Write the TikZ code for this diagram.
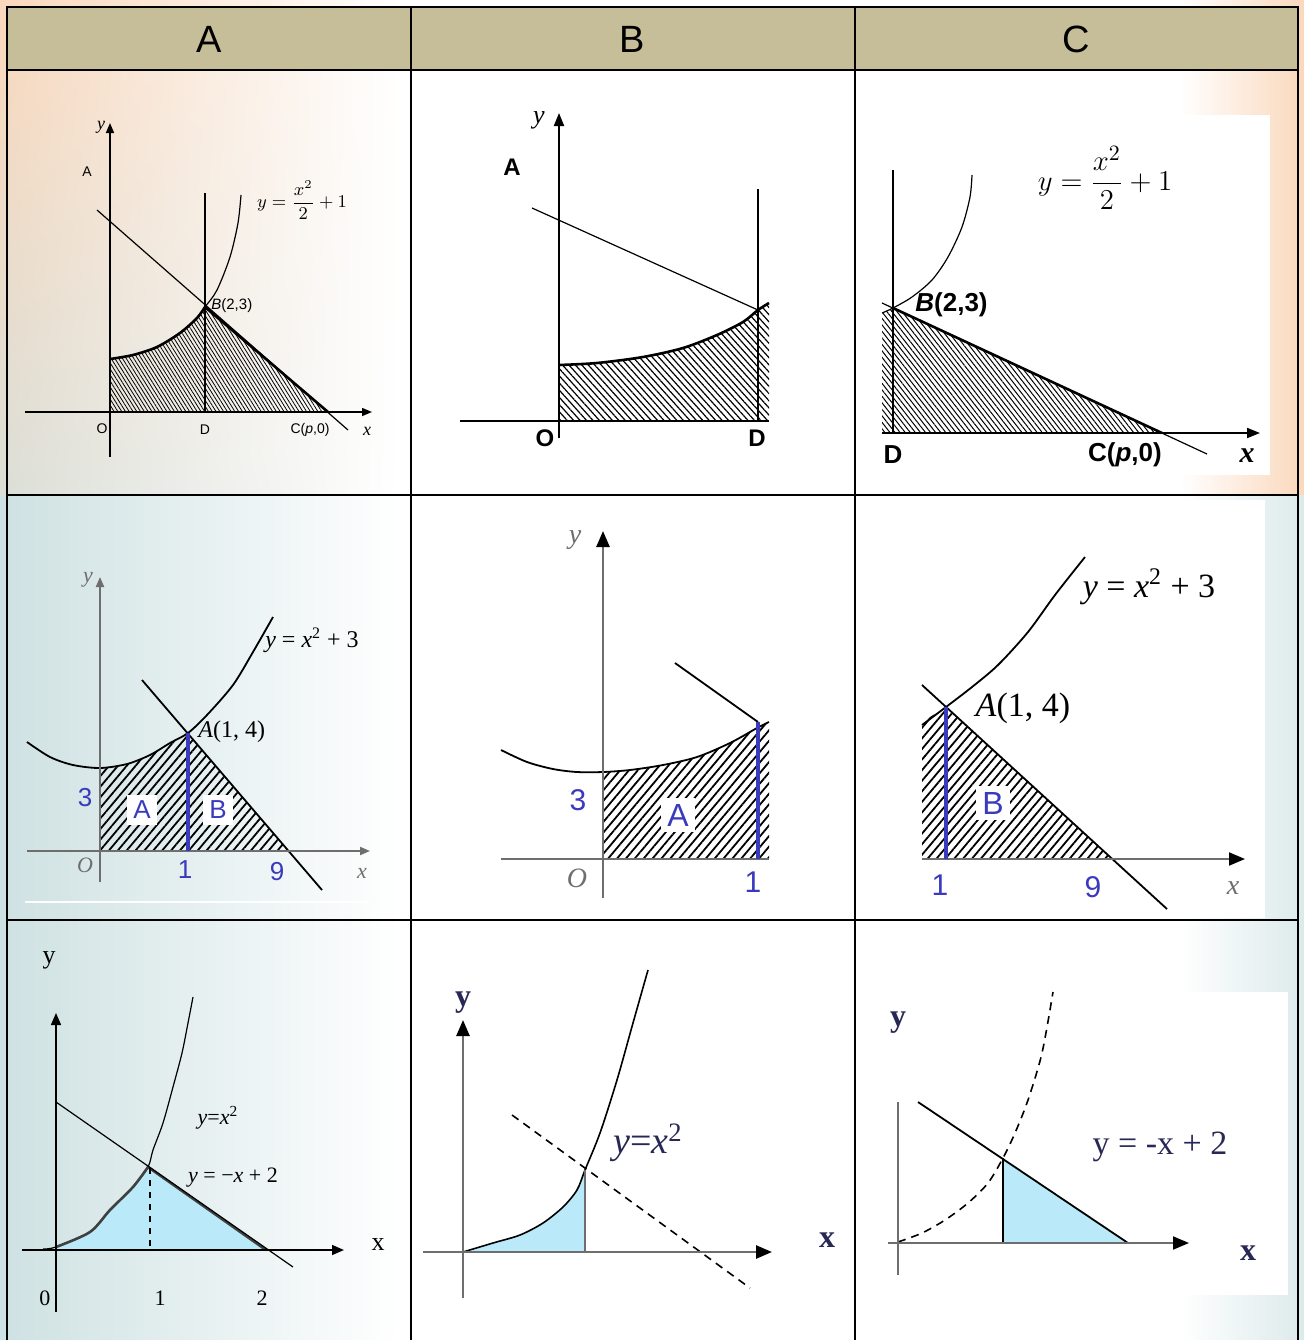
\documentclass[tikz,border=0pt]{standalone}
\usepackage{fontspec}
\setmainfont{Liberation Serif}
\newfontfamily\arialfont{Liberation Sans}
\usetikzlibrary{arrows.meta,patterns.meta,shadings}

\definecolor{headtan}{RGB}{197,190,152}
\definecolor{peach}{RGB}{250,216,188}
\definecolor{mist}{RGB}{206,225,226}
\definecolor{inkblue}{RGB}{58,58,190}
\definecolor{skyfill}{RGB}{186,234,250}
\definecolor{axisgray}{RGB}{110,110,110}
\definecolor{navy}{RGB}{40,40,85}

\newcommand{\fsz}[1]{\fontsize{#1}{#1}\selectfont}
\def\gridwidth{1.2pt}

\tikzstyle{head} = [font=\arialfont\fsz{19}]
\tikzstyle{grid} = [line width=\gridwidth, black]
\tikzstyle{axis} = [line width=0.75pt, -{Triangle[length=5pt,width=4pt]}]
\tikzstyle{axisB} = [line width=1pt, -{Triangle[length=6.5pt,width=5pt]}]
\tikzstyle{axisG} = [line width=1.3pt, axisgray, -{Triangle[length=8pt,width=6.5pt,color=black]}]
\tikzstyle{graph} = [line width=0.6pt]
\tikzstyle{rim} = [line width=1.3pt]
\tikzstyle{tag} = [inner sep=1pt]
\tikzstyle{bluetag} = [inner sep=1pt, text=inkblue, font=\arialfont\fsz{13}]
\tikzstyle{boxtag} = [bluetag, fill=white, inner sep=3pt]
\tikzstyle{cut} = [line width=1.8pt, inkblue]
\tikzstyle{hatchA} = [pattern={Lines[angle=-58,distance=1.6pt,line width=0.4pt]}]
\tikzstyle{hatchB} = [pattern={Lines[angle=-48,distance=2.4pt,line width=0.6pt]}]
\tikzstyle{hatchC} = [pattern={Lines[angle=-52,distance=2pt,line width=0.5pt]}]
\tikzstyle{hatchD} = [pattern={Lines[angle=50,distance=3.4pt,line width=0.9pt]}]
\tikzstyle{sky} = [fill=skyfill]

\begin{document}
\begin{tikzpicture}[x=0.5pt, y=-0.5pt]
    \useasboundingbox (0,0) rectangle (1304,1340);
    %%%%%%%%%%%%%%%%%%%%%%%%%%%%%%%%%%%%%%%%
    % Background
    %%%%%%%%%%%%%%%%%%%%%%%%%%%%%%%%%%%%%%%%
    \fill[white] (0,0) rectangle (1304,1340);
    \shade[upper left=peach, lower left=mist!70!peach, upper right=white, lower right=white] (0,0) rectangle (400,495);
    \shade[left color=mist, right color=white] (0,495) rectangle (400,1340);
    \shade[left color=white, right color=peach] (1180,0) rectangle (1304,495);
    \shade[left color=white, right color=mist!70] (1180,495) rectangle (1304,1340);
    \fill[white] (880,115) rectangle (1270,475);
    \fill[white] (922,500) rectangle (1265,918);
    \fill[white] (870,992) rectangle (1288,1295);
    \fill[headtan] (7,7) rectangle (1298,70);
    \draw[white, line width=1pt] (25,902) -- (370,902);
    \node (colA) [head] at (209,39) {A};
    \node (colB) [head] at (632,39) {B};
    \node (colC) [head] at (1076,39) {C};
    %%%%%%%%%%%%%%%%%%%%%%%%%%%%%%%%%%%%%%%%
    % Row 1
    %%%%%%%%%%%%%%%%%%%%%%%%%%%%%%%%%%%%%%%%
    \fill[hatchA] (110,412) -- plot[smooth] coordinates {(110,359) (133,355) (157,347) (180,333) (197,318) (205,307)} -- (328,412) -- cycle;
    \draw[graph] plot[smooth] coordinates {(110,359) (133,355) (157,347) (180,333) (197,318) (205,307) (217,290) (230,257) (238,223) (241,195)};
    \draw[rim] plot[smooth] coordinates {(110,359) (133,355) (157,347) (180,333) (197,318) (205,307)} -- (328,412);
    \draw[graph] (97,210) -- (348,430);
    \draw[graph] (205,193) -- (205,412);
    \draw[axis] (110,457) -- (110,123);
    \draw[axis] (25,412) -- (372,412);
    \node (a1y) [tag, font=\fsz{9}\itshape] at (101,127) {y};
    \node (a1A) [tag, font=\arialfont\fsz{7}] at (87,172) {A};
    \node (a1f) [tag, font=\fsz{9}] at (302,200) {$\displaystyle y=\frac{x^2}{2}+1$};
    \node (a1B) [tag, anchor=west, font=\arialfont\fsz{7.5}] at (209,306) {\textit{B}(2,3)};
    \node (a1O) [tag, font=\arialfont\fsz{7}] at (102,429) {O};
    \node (a1D) [tag, font=\arialfont\fsz{7}] at (205,430) {D};
    \node (a1C) [tag, font=\arialfont\fsz{7}] at (310,430) {C(\textit{p},0)};
    \node (a1x) [tag, font=\fsz{9}\itshape] at (367,431) {x};

    \fill[hatchB] (559,421) -- plot[smooth] coordinates {(559,365) (597,363) (643,357) (683,348) (717,335) (743,322) (758,310) (769,303)} -- (769,421) -- cycle;
    \draw[rim] plot[smooth] coordinates {(559,365) (597,363) (643,357) (683,348) (717,335) (743,322) (758,310) (769,303)};
    \draw[graph] (532,208) -- (758,310);
    \draw[graph] (758,189) -- (758,421);
    \draw[line width=1pt] (460,421) -- (769,421);
    \draw[axisB] (559,438) -- (559,113);
    \node (b1y) [tag, font=\fsz{13}\itshape] at (539,120) {y};
    \node (b1A) [tag, font=\arialfont\bfseries\fsz{12}] at (512,167) {A};
    \node (b1O) [tag, font=\arialfont\bfseries\fsz{12}] at (545,438) {O};
    \node (b1D) [tag, font=\arialfont\bfseries\fsz{12}] at (757,438) {D};

    \fill[hatchC] (882,433) -- (882,313) -- (893,308) -- (1162,433) -- cycle;
    \draw[graph] plot[smooth] coordinates {(882,313) (893,308) (912,297) (932,280) (948,257) (962,227) (970,197) (972,175)};
    \draw[graph] (882,303) -- (1207,454);
    \draw[rim] (893,308) -- (1162,433);
    \draw[graph] (893,170) -- (893,433);
    \draw[axisB] (882,433) -- (1260,433);
    \node (c1f) [tag, font=\fsz{15}] at (1105,178) {$\displaystyle y=\frac{x^2}{2}+1$};
    \node (c1B) [tag, anchor=west, font=\arialfont\bfseries\fsz{13}] at (913,305) {\textit{B}(2,3)};
    \node (c1D) [tag, font=\arialfont\bfseries\fsz{13}] at (893,455) {D};
    \node (c1C) [tag, font=\arialfont\bfseries\fsz{13}] at (1125,455) {C(\textit{p},0)};
    \node (c1x) [tag, font=\fsz{15}\itshape\bfseries] at (1247,456) {x};
    %%%%%%%%%%%%%%%%%%%%%%%%%%%%%%%%%%%%%%%%
    % Row 2
    %%%%%%%%%%%%%%%%%%%%%%%%%%%%%%%%%%%%%%%%
    \fill[hatchD] (100,851) -- plot[smooth] coordinates {(100,768) (127,764) (150,755) (170,743) (188,733)} -- (288,851) -- cycle;
    \draw[graph, line width=0.9pt] plot[smooth] coordinates {(27,742) (50,757) (73,765) (100,768) (127,764) (150,755) (170,743) (188,733) (207,715) (233,685) (253,652) (273,617)};
    \draw[graph, line width=0.9pt] (142,680) -- (322,890);
    \draw[axis, axisgray, line width=1pt] (100,882) -- (100,577);
    \draw[axis, axisgray, line width=1pt] (27,851) -- (370,851);
    \draw[cut] (188,733) -- (188,851);
    \node (a2t3) [bluetag] at (85,798) {3};
    \node (a2tA) [boxtag] at (142,810) {A};
    \node (a2tB) [boxtag] at (218,810) {B};
    \node (a2t1) [bluetag] at (185,870) {1};
    \node (a2t9) [bluetag] at (277,872) {9};
    \node (a2O) [tag, font=\fsz{11}\itshape, text=axisgray] at (85,865) {O};
    \node (a2y) [tag, font=\fsz{11}\itshape, text=axisgray] at (88,580) {y};
    \node (a2x) [tag, font=\fsz{11}\itshape, text=axisgray] at (362,873) {x};
    \node (a2A) [tag, anchor=west, font=\fsz{12}] at (196,732) {\textit{A}(1, 4)};
    \node (a2f) [tag, font=\fsz{12}] at (312,640) {\textit{y} = \textit{x}\textsuperscript{2} + 3};

    \fill[hatchD] (603,859) -- (603,772) -- plot[smooth] coordinates {(603,772) (630,770) (663,765) (697,757) (730,743) (757,728) (769,722)} -- (769,859) -- cycle;
    \draw[graph, line width=0.9pt] plot[smooth] coordinates {(501,750) (527,762) (553,769) (577,772) (603,772) (630,770) (663,765) (697,757) (730,743) (757,728) (769,722)};
    \draw[graph, line width=0.9pt] (675,663) -- (758,722);
    \draw[line width=1pt, axisgray] (501,859) -- (769,859);
    \draw[axisG] (603,898) -- (603,531);
    \draw[cut, line width=2.2pt] (758,722) -- (758,859);
    \node (b2t3) [bluetag, font=\arialfont\fsz{15}] at (578,800) {3};
    \node (b2tA) [boxtag, font=\arialfont\fsz{16}] at (678,815) {A};
    \node (b2t1) [bluetag, font=\arialfont\fsz{15}] at (753,882) {1};
    \node (b2O) [tag, font=\fsz{14}\itshape, text=axisgray] at (577,878) {O};
    \node (b2y) [tag, font=\fsz{14}\itshape, text=axisgray] at (575,540) {y};

    \fill[hatchD] (922,859) -- (922,722) -- (946,707) -- (1112,859) -- cycle;
    \draw[graph, line width=0.9pt] plot[smooth] coordinates {(922,725) (946,707) (972,687) (998,665) (1028,632) (1055,595) (1085,557)};
    \draw[graph, line width=0.9pt] (922,685) -- (1167,909);
    \draw[axisG, line width=1pt] (922,859) -- (1245,859);
    \draw[cut, line width=2.2pt] (946,707) -- (946,859);
    \node (c2tB) [boxtag, font=\arialfont\fsz{16}] at (993,803) {B};
    \node (c2t1) [bluetag, font=\arialfont\fsz{15}] at (940,885) {1};
    \node (c2t9) [bluetag, font=\arialfont\fsz{15}] at (1093,887) {9};
    \node (c2x) [tag, font=\fsz{14}\itshape, text=axisgray] at (1233,888) {x};
    \node (c2A) [tag, font=\fsz{17}] at (1023,708) {\textit{A}(1, 4)};
    \node (c2f) [tag, font=\fsz{17}] at (1149,587) {\textit{y} = \textit{x}\textsuperscript{2} + 3};
    %%%%%%%%%%%%%%%%%%%%%%%%%%%%%%%%%%%%%%%%
    % Row 3
    %%%%%%%%%%%%%%%%%%%%%%%%%%%%%%%%%%%%%%%%
    \fill[sky] (56,1250) -- plot[smooth] coordinates {(56,1247) (90,1232) (110,1210) (133,1187) (148,1167)} -- (266,1250) -- cycle;
    \draw[graph] plot[smooth] coordinates {(43,1249) (56,1247) (90,1232) (110,1210) (133,1187) (148,1167) (153,1150) (163,1123) (173,1087) (182,1053) (188,1023) (193,997)};
    \draw[rim, black!75] plot[smooth] coordinates {(56,1247) (90,1232) (110,1210) (133,1187) (148,1167)} -- (266,1250);
    \draw[graph] (56,1102) -- (293,1267);
    \draw[graph, dashed] (150,1168) -- (150,1250);
    \draw[axis, -{Triangle[length=6pt,width=5pt]}] (56,1312) -- (56,1013);
    \draw[axis, -{Triangle[length=6pt,width=5pt]}] (22,1250) -- (344,1250);
    \node (a3y) [tag, font=\fsz{13}] at (49,960) {y};
    \node (a3x) [tag, font=\fsz{13}] at (378,1245) {x};
    \node (a3n0) [tag, font=\fsz{11}] at (45,1298) {0};
    \node (a3n1) [tag, font=\fsz{11}] at (160,1298) {1};
    \node (a3n2) [tag, font=\fsz{11}] at (262,1298) {2};
    \node (a3f) [tag, font=\fsz{11}] at (218,1118) {\textit{y}=\textit{x}\textsuperscript{2}};
    \node (a3g) [tag, font=\fsz{11}] at (233,1178) {\textit{y} = −\textit{x} + 2};

    \fill[sky] (463,1252) -- plot[smooth] coordinates {(463,1252) (493,1243) (520,1235) (543,1223) (563,1207) (577,1190) (585,1170)} -- (585,1252) -- cycle;
    \draw[graph, line width=0.8pt] plot[smooth] coordinates {(463,1252) (493,1243) (520,1235) (543,1223) (563,1207) (577,1190) (585,1170) (600,1133) (617,1080) (633,1023) (648,970)};
    \draw[line width=1pt, axisgray] (585,1170) -- (585,1252);
    \draw[graph, line width=0.8pt, dashed, dash pattern=on 4pt off 3pt] (512,1115) -- (750,1288);
    \draw[axisG] (463,1298) -- (463,1020);
    \draw[axisG] (423,1252) -- (772,1252);
    \node (b3y) [tag, font=\fsz{16}\bfseries, text=navy] at (463,1003) {y};
    \node (b3x) [tag, font=\fsz{16}\bfseries, text=navy] at (827,1240) {x};
    \node (b3f) [tag, font=\fsz{19}, text=navy] at (648,1143) {\textit{y}=\textit{x}\textsuperscript{2}};

    \fill[sky] (1003,1158) -- (1128,1243) -- (1003,1243) -- cycle;
    \draw[graph, line width=0.8pt, dashed, dash pattern=on 4pt off 3pt] plot[smooth] coordinates {(898,1242) (922,1233) (945,1220) (968,1203) (988,1183) (1003,1158) (1015,1133) (1028,1100) (1042,1053) (1053,992)};
    \draw[graph, line width=0.9pt] (918,1102) -- (1128,1243);
    \draw[graph, line width=0.9pt] (1003,1158) -- (1003,1243);
    \draw[line width=1.3pt, axisgray] (898,1275) -- (898,1102);
    \draw[axisG, line width=1pt] (888,1243) -- (1189,1243);
    \node (c3y) [tag, font=\fsz{16}\bfseries, text=navy] at (898,1023) {y};
    \node (c3x) [tag, font=\fsz{16}\bfseries, text=navy] at (1248,1253) {x};
    \node (c3f) [tag, font=\fsz{17}, text=navy] at (1160,1147) {y = -x + 2};
    %%%%%%%%%%%%%%%%%%%%%%%%%%%%%%%%%%%%%%%%
    % Table lines
    %%%%%%%%%%%%%%%%%%%%%%%%%%%%%%%%%%%%%%%%
    \draw[grid] (7,1345) -- (7,7) -- (1298,7) -- (1298,1345);
    \draw[grid] (411,7) -- (411,1345);
    \draw[grid] (855,7) -- (855,1345);
    \draw[grid] (7,70) -- (1298,70);
    \draw[grid] (7,495) -- (1298,495);
    \draw[grid] (7,920) -- (1298,920);
\end{tikzpicture}
\end{document}
